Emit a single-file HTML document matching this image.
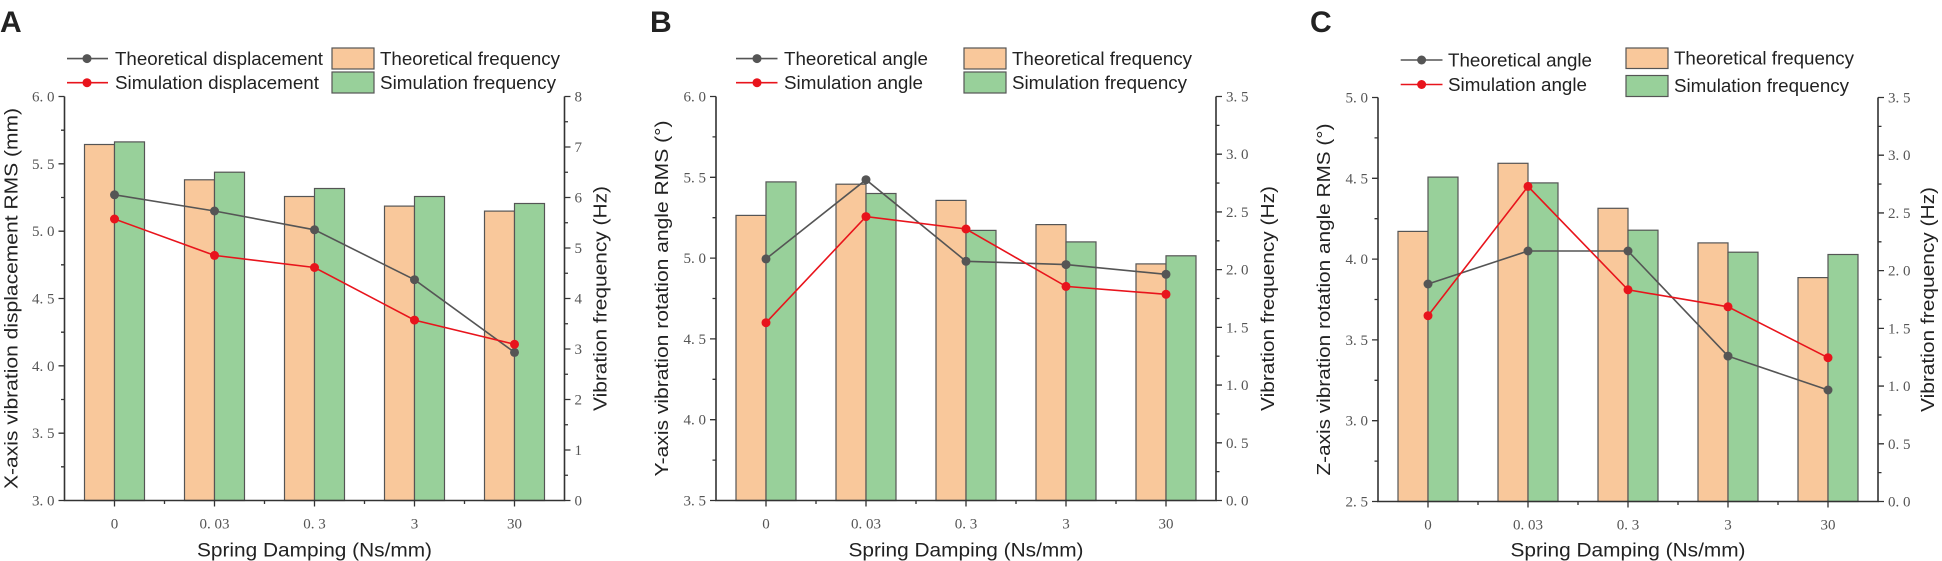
<!DOCTYPE html>
<html><head><meta charset="utf-8"><style>
html,body{margin:0;padding:0;background:#fff;}
svg{display:block;}
.t{font-family:"Liberation Serif",serif;font-size:15px;fill:#555;}
.s{font-family:"Liberation Sans",sans-serif;fill:#222;}
.ax{stroke:#333;stroke-width:1.6;fill:none;}
.tk{stroke:#333;stroke-width:1.3;}
.o{fill:#F9C89B;stroke:#555;stroke-width:1.2;}
.g{fill:#98D09A;stroke:#555;stroke-width:1.2;}
.lt{stroke:#555;stroke-width:1.6;fill:none;}
.ls{stroke:#E8141C;stroke-width:1.6;fill:none;}
.mt{fill:#555;}
.ms{fill:#E8141C;}
</style></head><body>
<svg width="1942" height="561" viewBox="0 0 1942 561" xmlns="http://www.w3.org/2000/svg">
<rect width="1942" height="561" fill="#fff"/>
<text x="0" y="32" class="s" font-size="30" font-weight="bold" fill="#000">A</text>
<text x="650" y="32" class="s" font-size="30" font-weight="bold" fill="#000">B</text>
<text x="1310" y="32" class="s" font-size="30" font-weight="bold" fill="#000">C</text>

<!-- ========== PANEL A ========== -->
<g>
<line x1="67" y1="58.6" x2="108" y2="58.6" class="lt"/><circle cx="87" cy="58.6" r="4.5" class="mt"/>
<text x="115" y="65" class="s" font-size="18" textLength="208" lengthAdjust="spacingAndGlyphs">Theoretical displacement</text>
<line x1="67" y1="82.7" x2="108" y2="82.7" class="ls"/><circle cx="87" cy="82.7" r="4.5" class="ms"/>
<text x="115" y="89" class="s" font-size="18" textLength="204" lengthAdjust="spacingAndGlyphs">Simulation displacement</text>
<rect x="332" y="48" width="42" height="21" class="o"/>
<text x="380" y="65" class="s" font-size="18" textLength="180" lengthAdjust="spacingAndGlyphs">Theoretical frequency</text>
<rect x="332" y="72" width="42" height="21" class="g"/>
<text x="380" y="89" class="s" font-size="18" textLength="176" lengthAdjust="spacingAndGlyphs">Simulation frequency</text>
</g>
<g transform="translate(64.5,96.5)">
<rect x="20" y="48" width="30" height="356" class="o"/><rect x="50" y="45.4" width="30" height="358.6" class="g"/>
<rect x="120" y="83.3" width="30" height="320.7" class="o"/><rect x="150" y="75.7" width="30" height="328.3" class="g"/>
<rect x="220" y="100" width="30" height="304" class="o"/><rect x="250" y="92" width="30" height="312" class="g"/>
<rect x="320" y="109.6" width="30" height="294.4" class="o"/><rect x="350" y="100" width="30" height="304" class="g"/>
<rect x="420" y="114.6" width="30" height="289.4" class="o"/><rect x="450" y="107" width="30" height="297" class="g"/>
<polyline points="50,98.3 150,114.5 250,133.3 350,183.2 450,255.9" class="lt"/>
<polyline points="50,122.5 150,158.9 250,171 350,223.6 450,247.8" class="ls"/>
<g class="mt"><circle cx="50" cy="98.3" r="4.5"/><circle cx="150" cy="114.5" r="4.5"/><circle cx="250" cy="133.3" r="4.5"/><circle cx="350" cy="183.2" r="4.5"/><circle cx="450" cy="255.9" r="4.5"/></g>
<g class="ms"><circle cx="50" cy="122.5" r="4.5"/><circle cx="150" cy="158.9" r="4.5"/><circle cx="250" cy="171" r="4.5"/><circle cx="350" cy="223.6" r="4.5"/><circle cx="450" cy="247.8" r="4.5"/></g>
<path d="M0,0 V404 H500 V0" class="ax"/>
<path class="tk" d="M0,0h-6M0,67.33h-6M0,134.67h-6M0,202h-6M0,269.33h-6M0,336.67h-6M0,404h-6
M0,33.67h-3.5M0,101h-3.5M0,168.33h-3.5M0,235.67h-3.5M0,303h-3.5M0,370.33h-3.5
M500,0h6M500,50.5h6M500,101h6M500,151.5h6M500,202h6M500,252.5h6M500,303h6M500,353.5h6M500,404h6
M500,25.25h3.5M500,75.75h3.5M500,126.25h3.5M500,176.75h3.5M500,227.25h3.5M500,277.75h3.5M500,328.25h3.5M500,378.75h3.5
M50,404v6M150,404v6M250,404v6M350,404v6M450,404v6M100,404v3.5M200,404v3.5M300,404v3.5M400,404v3.5"/>
<g class="t" text-anchor="end"><text x="-10" y="5">6. 0</text><text x="-10" y="72.3">5. 5</text><text x="-10" y="139.7">5. 0</text><text x="-10" y="207">4. 5</text><text x="-10" y="274.3">4. 0</text><text x="-10" y="341.7">3. 5</text><text x="-10" y="409">3. 0</text></g>
<g class="t"><text x="510" y="5">8</text><text x="510" y="55.5">7</text><text x="510" y="106">6</text><text x="510" y="156.5">5</text><text x="510" y="207">4</text><text x="510" y="257.5">3</text><text x="510" y="308">2</text><text x="510" y="358.5">1</text><text x="510" y="409">0</text></g>
<g class="t" text-anchor="middle"><text x="50" y="432">0</text><text x="150" y="432">0. 03</text><text x="250" y="432">0. 3</text><text x="350" y="432">3</text><text x="450" y="432">30</text></g>
<text x="250" y="460" class="s" font-size="19" text-anchor="middle" textLength="235" lengthAdjust="spacingAndGlyphs">Spring Damping (Ns/mm)</text>
<text transform="translate(-47,202) rotate(-90)" class="s" font-size="18" text-anchor="middle" textLength="381" lengthAdjust="spacingAndGlyphs">X-axis vibration displacement RMS (mm)</text>
<text transform="translate(542,202) rotate(-90)" class="s" font-size="18" text-anchor="middle" textLength="225" lengthAdjust="spacingAndGlyphs">Vibration frequency (Hz)</text>
</g>

<!-- ========== PANEL B ========== -->
<g>
<line x1="736" y1="58.6" x2="777.5" y2="58.6" class="lt"/><circle cx="757" cy="58.6" r="4.5" class="mt"/>
<text x="784" y="65" class="s" font-size="18" textLength="144" lengthAdjust="spacingAndGlyphs">Theoretical angle</text>
<line x1="736" y1="82.7" x2="777.5" y2="82.7" class="ls"/><circle cx="757" cy="82.7" r="4.5" class="ms"/>
<text x="784" y="89" class="s" font-size="18" textLength="139" lengthAdjust="spacingAndGlyphs">Simulation angle</text>
<rect x="964" y="48" width="42" height="21" class="o"/>
<text x="1012" y="65" class="s" font-size="18" textLength="180" lengthAdjust="spacingAndGlyphs">Theoretical frequency</text>
<rect x="964" y="72" width="42" height="21" class="g"/>
<text x="1012" y="89" class="s" font-size="18" textLength="175" lengthAdjust="spacingAndGlyphs">Simulation frequency</text>
</g>
<g transform="translate(716,96.5)">
<rect x="20" y="118.9" width="30" height="285.1" class="o"/><rect x="50" y="85.4" width="30" height="318.6" class="g"/>
<rect x="120" y="87.7" width="30" height="316.3" class="o"/><rect x="150" y="97" width="30" height="307" class="g"/>
<rect x="220" y="103.9" width="30" height="300.1" class="o"/><rect x="250" y="133.9" width="30" height="270.1" class="g"/>
<rect x="320" y="128.1" width="30" height="275.9" class="o"/><rect x="350" y="145.4" width="30" height="258.6" class="g"/>
<rect x="420" y="167.4" width="30" height="236.6" class="o"/><rect x="450" y="159.3" width="30" height="244.7" class="g"/>
<polyline points="50,162.4 150,83.2 250,164.8 350,168.1 450,177.8" class="lt"/>
<polyline points="50,226.2 150,120.1 250,132.5 350,189.9 450,197.8" class="ls"/>
<g class="mt"><circle cx="50" cy="162.4" r="4.5"/><circle cx="150" cy="83.2" r="4.5"/><circle cx="250" cy="164.8" r="4.5"/><circle cx="350" cy="168.1" r="4.5"/><circle cx="450" cy="177.8" r="4.5"/></g>
<g class="ms"><circle cx="50" cy="226.2" r="4.5"/><circle cx="150" cy="120.1" r="4.5"/><circle cx="250" cy="132.5" r="4.5"/><circle cx="350" cy="189.9" r="4.5"/><circle cx="450" cy="197.8" r="4.5"/></g>
<path d="M0,0 V404 H500 V0" class="ax"/>
<path class="tk" d="M0,0h-6M0,80.8h-6M0,161.6h-6M0,242.4h-6M0,323.2h-6M0,404h-6
M0,40.4h-3.5M0,121.2h-3.5M0,202h-3.5M0,282.8h-3.5M0,363.6h-3.5
M500,0h6M500,57.71h6M500,115.43h6M500,173.14h6M500,230.86h6M500,288.57h6M500,346.29h6M500,404h6
M500,28.86h3.5M500,86.57h3.5M500,144.29h3.5M500,202h3.5M500,259.71h3.5M500,317.43h3.5M500,375.14h3.5
M50,404v6M150,404v6M250,404v6M350,404v6M450,404v6M100,404v3.5M200,404v3.5M300,404v3.5M400,404v3.5"/>
<g class="t" text-anchor="end"><text x="-10" y="5">6. 0</text><text x="-10" y="85.8">5. 5</text><text x="-10" y="166.6">5. 0</text><text x="-10" y="247.4">4. 5</text><text x="-10" y="328.2">4. 0</text><text x="-10" y="409">3. 5</text></g>
<g class="t"><text x="510" y="5">3. 5</text><text x="510" y="62.7">3. 0</text><text x="510" y="120.4">2. 5</text><text x="510" y="178.1">2. 0</text><text x="510" y="235.9">1. 5</text><text x="510" y="293.6">1. 0</text><text x="510" y="351.3">0. 5</text><text x="510" y="409">0. 0</text></g>
<g class="t" text-anchor="middle"><text x="50" y="432">0</text><text x="150" y="432">0. 03</text><text x="250" y="432">0. 3</text><text x="350" y="432">3</text><text x="450" y="432">30</text></g>
<text x="250" y="460" class="s" font-size="19" text-anchor="middle" textLength="235" lengthAdjust="spacingAndGlyphs">Spring Damping (Ns/mm)</text>
<text transform="translate(-48,202) rotate(-90)" class="s" font-size="18" text-anchor="middle" textLength="356" lengthAdjust="spacingAndGlyphs">Y-axis vibration rotation angle RMS (°)</text>
<text transform="translate(558,202) rotate(-90)" class="s" font-size="18" text-anchor="middle" textLength="225" lengthAdjust="spacingAndGlyphs">Vibration frequency (Hz)</text>
</g>

<!-- ========== PANEL C ========== -->
<g>
<line x1="1400.7" y1="60" x2="1442.5" y2="60" class="lt"/><circle cx="1421.6" cy="60" r="4.5" class="mt"/>
<text x="1448" y="66.5" class="s" font-size="18" textLength="144" lengthAdjust="spacingAndGlyphs">Theoretical angle</text>
<line x1="1400.7" y1="84.5" x2="1442.5" y2="84.5" class="ls"/><circle cx="1421.6" cy="84.5" r="4.5" class="ms"/>
<text x="1448" y="91" class="s" font-size="18" textLength="139" lengthAdjust="spacingAndGlyphs">Simulation angle</text>
<rect x="1626" y="48" width="42" height="20.5" class="o"/>
<text x="1674" y="64.5" class="s" font-size="18" textLength="180" lengthAdjust="spacingAndGlyphs">Theoretical frequency</text>
<rect x="1626" y="75.5" width="42" height="21" class="g"/>
<text x="1674" y="92" class="s" font-size="18" textLength="175" lengthAdjust="spacingAndGlyphs">Simulation frequency</text>
</g>
<g transform="translate(1378,97.5)">
<rect x="20" y="133.9" width="30" height="270.1" class="o"/><rect x="50" y="79.6" width="30" height="324.4" class="g"/>
<rect x="120" y="65.8" width="30" height="338.2" class="o"/><rect x="150" y="85.4" width="30" height="318.6" class="g"/>
<rect x="220" y="110.8" width="30" height="293.2" class="o"/><rect x="250" y="132.7" width="30" height="271.3" class="g"/>
<rect x="320" y="145.4" width="30" height="258.6" class="o"/><rect x="350" y="154.7" width="30" height="249.3" class="g"/>
<rect x="420" y="180.1" width="30" height="223.9" class="o"/><rect x="450" y="157" width="30" height="247" class="g"/>
<polyline points="50,186.5 150,153.5 250,153.5 350,258.6 450,292.5" class="lt"/>
<polyline points="50,218.2 150,88.9 250,192.3 350,209.3 450,260.2" class="ls"/>
<g class="mt"><circle cx="50" cy="186.5" r="4.5"/><circle cx="150" cy="153.5" r="4.5"/><circle cx="250" cy="153.5" r="4.5"/><circle cx="350" cy="258.6" r="4.5"/><circle cx="450" cy="292.5" r="4.5"/></g>
<g class="ms"><circle cx="50" cy="218.2" r="4.5"/><circle cx="150" cy="88.9" r="4.5"/><circle cx="250" cy="192.3" r="4.5"/><circle cx="350" cy="209.3" r="4.5"/><circle cx="450" cy="260.2" r="4.5"/></g>
<path d="M0,0 V404 H500 V0" class="ax"/>
<path class="tk" d="M0,0h-6M0,80.8h-6M0,161.6h-6M0,242.4h-6M0,323.2h-6M0,404h-6
M0,40.4h-3.5M0,121.2h-3.5M0,202h-3.5M0,282.8h-3.5M0,363.6h-3.5
M500,0h6M500,57.71h6M500,115.43h6M500,173.14h6M500,230.86h6M500,288.57h6M500,346.29h6M500,404h6
M500,28.86h3.5M500,86.57h3.5M500,144.29h3.5M500,202h3.5M500,259.71h3.5M500,317.43h3.5M500,375.14h3.5
M50,404v6M150,404v6M250,404v6M350,404v6M450,404v6M100,404v3.5M200,404v3.5M300,404v3.5M400,404v3.5"/>
<g class="t" text-anchor="end"><text x="-10" y="5">5. 0</text><text x="-10" y="85.8">4. 5</text><text x="-10" y="166.6">4. 0</text><text x="-10" y="247.4">3. 5</text><text x="-10" y="328.2">3. 0</text><text x="-10" y="409">2. 5</text></g>
<g class="t"><text x="510" y="5">3. 5</text><text x="510" y="62.7">3. 0</text><text x="510" y="120.4">2. 5</text><text x="510" y="178.1">2. 0</text><text x="510" y="235.9">1. 5</text><text x="510" y="293.6">1. 0</text><text x="510" y="351.3">0. 5</text><text x="510" y="409">0. 0</text></g>
<g class="t" text-anchor="middle"><text x="50" y="432">0</text><text x="150" y="432">0. 03</text><text x="250" y="432">0. 3</text><text x="350" y="432">3</text><text x="450" y="432">30</text></g>
<text x="250" y="459" class="s" font-size="19" text-anchor="middle" textLength="235" lengthAdjust="spacingAndGlyphs">Spring Damping (Ns/mm)</text>
<text transform="translate(-48,202) rotate(-90)" class="s" font-size="18" text-anchor="middle" textLength="352" lengthAdjust="spacingAndGlyphs">Z-axis vibration rotation angle RMS (°)</text>
<text transform="translate(556,202) rotate(-90)" class="s" font-size="18" text-anchor="middle" textLength="225" lengthAdjust="spacingAndGlyphs">Vibration frequency (Hz)</text>
</g>
</svg>
</body></html>
